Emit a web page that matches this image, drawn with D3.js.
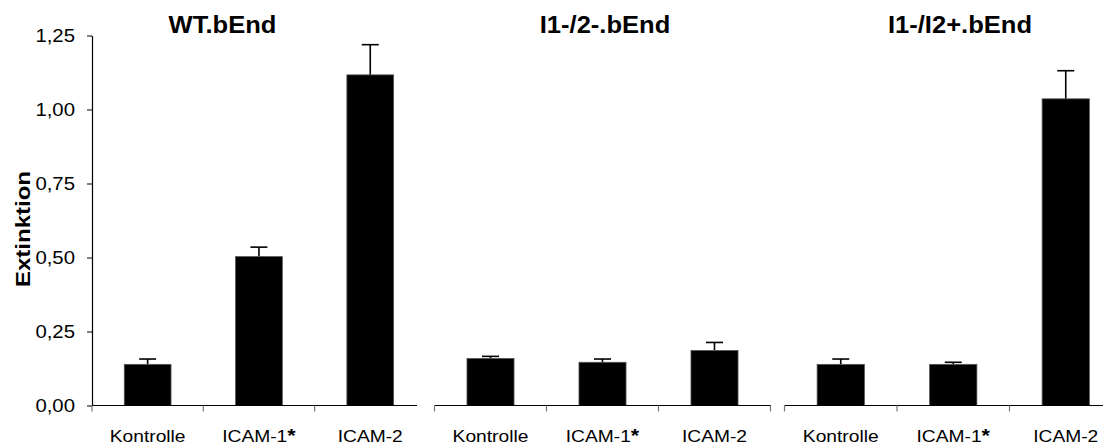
<!DOCTYPE html>
<html>
<head>
<meta charset="utf-8">
<script src="https://cdn.jsdelivr.net/npm/d3@7"></script>
<style>
  html, body { margin: 0; padding: 0; background: #fff; }
  svg { display: block; }
  text { font-family: "Liberation Sans", Arial, sans-serif; fill: #000; }
</style>
</head>
<body>
<svg id="chart" width="1118" height="446"></svg>
<script>
// Cell lines (one panel each) and treatments (bars within a panel)
const groups = ["WT.bEnd", "I1-/2-.bEnd", "I1-/I2+.bEnd"];
const categories = ["Kontrolle", "ICAM-1", "ICAM-2"];
const markedCategory = "ICAM-1";   // label carries a bold asterisk

// Mean extinction per treatment and its standard error
const wtMeans   = [0.139, 0.503, 1.117];
const wtErrors  = [0.018, 0.032, 0.102];
const koMeans   = [0.159, 0.146, 0.186];
const koErrors  = [0.007, 0.011, 0.027];
const i2Means   = [0.139, 0.139, 1.036];
const i2Errors  = [0.018, 0.007, 0.095];

const yTicks = [0, 0.25, 0.5, 0.75, 1.0, 1.25];

const seriesMeans = [wtMeans, koMeans, i2Means];
const seriesErrors = [wtErrors, koErrors, i2Errors];

// Panel layout: left edge, width of one category slot, visible end of the baseline,
// whether the right end carries a tick, and horizontal title position
const panels = [
  { x0: 92,    step: 111.3, lineEnd: 417,  endTick: false, titleX: 222.5, yAxis: true },
  { x0: 434.5, step: 112,   lineEnd: 771,  endTick: true,  titleX: 605,   yAxis: false },
  { x0: 784.5, step: 112.5, lineEnd: 1103, endTick: false, titleX: 960,   yAxis: false }
];

const svg = d3.select("#chart");
const stretch = 1.13;  // wide glyph proportion used for all labels

function widen(sel, k) {
  sel.each(function () {
    const len = this.getComputedTextLength();
    d3.select(this).attr("textLength", len * k).attr("lengthAdjust", "spacingAndGlyphs");
  });
}

const y = d3.scaleLinear().domain([0, 1.25]).range([405.5, 35.5]);
const baseY = y(0);

const locale = d3.formatLocale({ decimal: ",", thousands: ".", grouping: [3], currency: ["", " €"] });
const fmt = locale.format(".2f");

// Y axis (first panel only)
const yAxis = d3.axisLeft(y).tickValues(yTicks).tickFormat(fmt).tickSize(5).tickPadding(12).tickSizeOuter(0);
const yg = svg.append("g").attr("transform", `translate(${panels[0].x0},0)`).call(yAxis);
yg.select(".domain").attr("stroke", "#000").attr("stroke-width", 1.2);
yg.selectAll(".tick line").attr("stroke", "#000");
yg.selectAll(".tick text").attr("font-size", 18).attr("font-family", "Liberation Sans, Arial, sans-serif");
widen(yg.selectAll(".tick text"), stretch);

// Y axis title
const yTitle = svg.append("text")
  .attr("transform", `translate(30,229) rotate(-90)`)
  .attr("text-anchor", "middle")
  .attr("font-size", 20.5)
  .attr("font-weight", "bold")
  .text("Extinktion");
widen(yTitle, 1.17);

panels.forEach((p, gi) => {
  const x = d3.scaleBand()
    .domain(categories)
    .range([p.x0, p.x0 + p.step * categories.length])
    .paddingInner(0.58)
    .paddingOuter(0.29);

  const g = svg.append("g");
  const means = seriesMeans[gi];
  const errs = seriesErrors[gi];
  const data = categories.map((c, i) => ({ c, v: means[i], e: errs[i] }));

  // error bars (drawn behind bars, upper whisker only visible)
  const cap = 17;
  g.selectAll(".err").data(data).join("line")
    .attr("x1", d => x(d.c) + x.bandwidth() / 2)
    .attr("x2", d => x(d.c) + x.bandwidth() / 2)
    .attr("y1", d => y(d.v))
    .attr("y2", d => y(d.v + d.e))
    .attr("stroke", "#000").attr("stroke-width", 1.6);
  g.selectAll(".cap").data(data).join("line")
    .attr("x1", d => x(d.c) + x.bandwidth() / 2 - cap / 2)
    .attr("x2", d => x(d.c) + x.bandwidth() / 2 + cap / 2)
    .attr("y1", d => y(d.v + d.e))
    .attr("y2", d => y(d.v + d.e))
    .attr("stroke", "#000").attr("stroke-width", 1.6);

  // bars
  g.selectAll(".bar").data(data).join("rect")
    .attr("x", d => x(d.c))
    .attr("width", x.bandwidth())
    .attr("y", d => y(d.v))
    .attr("height", d => baseY - y(d.v))
    .attr("fill", "#000")
    .attr("stroke", "#555").attr("stroke-width", 0.8);

  // baseline
  g.append("line")
    .attr("x1", p.x0).attr("x2", p.lineEnd)
    .attr("y1", baseY).attr("y2", baseY)
    .attr("stroke", "#000").attr("stroke-width", 1.2);

  // category separators
  const tickIdx = d3.range(p.endTick ? categories.length + 1 : categories.length);
  g.selectAll(".sep").data(tickIdx).join("line")
    .attr("x1", i => p.x0 + i * x.step())
    .attr("x2", i => p.x0 + i * x.step())
    .attr("y1", baseY).attr("y2", baseY + 6)
    .attr("stroke", "#777").attr("stroke-width", 1.2);

  // category labels
  const labels = g.selectAll(".cat").data(categories).join("text")
    .attr("x", c => x(c) + x.bandwidth() / 2)
    .attr("y", 442)
    .attr("text-anchor", "middle")
    .attr("font-size", 17);
  labels.append("tspan").text(c => c);
  labels.filter(c => c === markedCategory).append("tspan")
    .attr("font-weight", "bold").attr("font-size", 19).text("*");
  widen(labels, stretch);

  // panel title
  const t = svg.append("text")
    .attr("x", p.titleX).attr("y", 33)
    .attr("text-anchor", "middle")
    .attr("font-size", 23)
    .attr("font-weight", "bold")
    .text(groups[gi]);
  widen(t, 1.11);
});
</script>
</body>
</html>
